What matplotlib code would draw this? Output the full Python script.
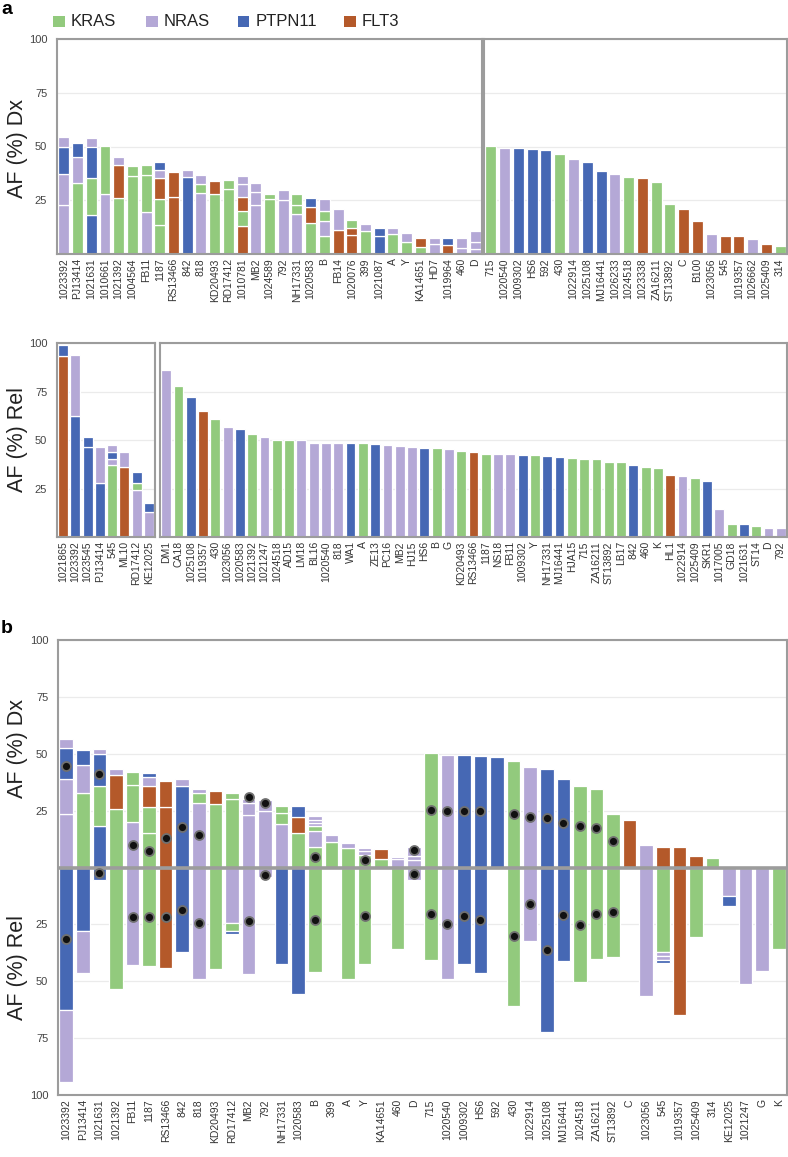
import matplotlib
matplotlib.use("Agg")
import matplotlib.pyplot as plt
from matplotlib.patches import Rectangle
import numpy as np

plt.rcParams['font.family'] = ['Liberation Sans', 'DejaVu Sans']

W, H = 788, 1157
GENE_NAMES = ['KRAS', 'NRAS', 'PTPN11', 'FLT3']
GENE_CODES = ['K', 'N', 'P', 'F']
COL = {'K': '#92CA7D', 'N': '#B4A8D6', 'P': '#4668B4', 'F': '#B4592A'}

# ---------------- Panel a, top: AF (%) Dx ----------------
dx_left_names = ['1023392', 'PJ13414', '1021631', '1010661', '1021392', '1004564', 'FB11', '1187',
                 'RS13466', '842', '818', 'KD20493', 'RD17412', '1010781', 'MB2', '1024589', '792',
                 'NH17331', '1020583', 'B', 'FB14', '1020076', '399', '1021087', 'A', 'Y', 'KA14651',
                 'HD7', '1019964', '460', 'D']
dx_left_segs = [
    [('N', 23), ('N', 14), ('P', 12.7), ('N', 4.5)],
    [('K', 33), ('N', 12.3), ('P', 6.4)],
    [('P', 18.2), ('K', 17), ('P', 14.8), ('N', 4)],
    [('N', 28), ('K', 22)],
    [('K', 26), ('F', 15.4), ('N', 3.6)],
    [('K', 36.3), ('K', 4.7)],
    [('N', 19.6), ('K', 17), ('K', 5)],
    [('K', 13.5), ('K', 12), ('F', 9.7), ('N', 3.8), ('P', 3.6)],
    [('F', 26.4), ('F', 11.6)],
    [('P', 35.6), ('N', 3.4)],
    [('N', 28.3), ('K', 4.2), ('N', 4.1)],
    [('K', 28), ('F', 6)],
    [('K', 30.4), ('K', 3.8)],
    [('F', 13), ('K', 7), ('F', 6.5), ('N', 6.2), ('N', 3.6)],
    [('N', 22.7), ('N', 6.2), ('N', 4.1)],
    [('K', 25.5), ('K', 2.6)],
    [('N', 25.3), ('N', 4.3)],
    [('N', 18.7), ('K', 4.1), ('K', 5)],
    [('K', 14.5), ('F', 7.3), ('P', 4.4)],
    [('K', 8.5), ('N', 6.9), ('K', 4.6), ('N', 5.8)],
    [('F', 11), ('N', 9.7)],
    [('F', 8.8), ('F', 3.4), ('K', 3.8)],
    [('K', 10.6), ('N', 3.3)],
    [('P', 8.6), ('P', 3.7)],
    [('K', 9.1), ('N', 2.8)],
    [('K', 5.6), ('N', 4.4)],
    [('K', 3.4), ('F', 4)],
    [('N', 4.5), ('N', 2.9)],
    [('F', 4.3), ('P', 3.3)],
    [('N', 2.6), ('N', 4.8)],
    [('N', 2.3), ('N', 3.1), ('N', 5.4)],
]

dx_right_names = ['715', '1020540', '1009302', 'HS6', '592', '430', '1022914', '1025108', 'MJ16441',
                  '1026233', '1024518', '1023338', 'ZA16211', 'ST13892', 'C', 'B100', '1023056', '545',
                  '1019357', '1026662', '1025409', '314']
dx_right_genes = ['K', 'N', 'P', 'P', 'P', 'K', 'N', 'P', 'P', 'N', 'K', 'F', 'K', 'K', 'F', 'F', 'N',
                  'F', 'F', 'N', 'F', 'K']
dx_right_vals = [50.4, 49.4, 49.4, 48.8, 48.5, 46.3, 44.1, 42.9, 38.7, 37.2, 35.6, 35.4, 33.7, 23.1,
                 20.7, 15.2, 9.4, 8.4, 8.4, 7.0, 4.5, 3.6]

# ---------------- Panel a, middle: AF (%) Rel ----------------
rel_left_names = ['1021865', '1023392', '1023545', 'PJ13414', '545', 'ML10', 'RD17412', 'KE12025']
rel_left_segs = [
    [('F', 93.5), ('P', 5.6)],
    [('P', 62.4), ('N', 31.6)],
    [('P', 46.6), ('P', 5.1)],
    [('P', 27.6), ('N', 19)],
    [('K', 37), ('N', 3.2), ('P', 3.8), ('N', 3.4)],
    [('F', 36.2), ('N', 7.8)],
    [('N', 24.1), ('K', 3.8), ('P', 5.7)],
    [('N', 12.9), ('P', 4.7)],
]

rel_right_names = ['DM1', 'CA18', '1025108', '1019357', '430', '1023056', '1020583', '1021392', '1021247',
                   '1024518', 'AD15', 'LM18', 'BL16', '1020540', '818', 'WA1', 'A', 'ZE13', 'PC16', 'MB2',
                   'HJ15', 'HS6', 'B', 'G', 'KD20493', 'RS13466', '1187', 'NS18', 'FB11', '1009302', 'Y',
                   'NH17331', 'MJ16441', 'HJA15', '715', 'ZA16211', 'ST13892', 'LB17', '842', '460', 'K',
                   'HL1', '1022914', '1025409', 'SKR1', '1017005', 'GD18', '1021631', 'ST14', 'D', '792']
rel_right_genes = ['N', 'K', 'P', 'F', 'K', 'N', 'P', 'K', 'N', 'K', 'K', 'N', 'N', 'N', 'N', 'P', 'K',
                   'P', 'N', 'N', 'N', 'P', 'K', 'N', 'K', 'F', 'K', 'N', 'N', 'P', 'K', 'P', 'P', 'K',
                   'K', 'K', 'K', 'K', 'P', 'K', 'K', 'F', 'N', 'K', 'P', 'N', 'K', 'P', 'K', 'N', 'N']
rel_right_vals = [85.9, 77.9, 72, 65, 60.7, 56.6, 55.5, 53.1, 51.4, 50, 50, 50, 48.6, 48.6, 48.6, 48.6,
                  48.3, 47.8, 47.2, 46.7, 46.2, 45.9, 45.7, 45.2, 44.5, 43.8, 42.9, 42.8, 42.8, 42.1,
                  42.1, 41.7, 41, 40.7, 40.3, 40, 38.8, 38.6, 37.1, 35.9, 35.5, 32.2, 31.6, 30.5, 29.1,
                  14.3, 6.9, 6.9, 5.5, 4.8, 4.8]

# ---------------- Panel b: paired Dx (up) / Rel (down) ----------------
b_names = ['1023392', 'PJ13414', '1021631', '1021392', 'FB11', '1187', 'RS13466', '842', '818', 'KD20493',
           'RD17412', 'MB2', '792', 'NH17331', '1020583', 'B', '399', 'A', 'Y', 'KA14651', '460', 'D',
           '715', '1020540', '1009302', 'HS6', '592', '430', '1022914', '1025108', 'MJ16441', '1024518',
           'ZA16211', 'ST13892', 'C', '1023056', '545', '1019357', '1025409', '314', 'KE12025', '1021247',
           'G', 'K']
b_dx_segs = [
    [('N', 23.5), ('N', 15.6), ('P', 13.6), ('N', 3.9)],
    [('K', 32.8), ('N', 12.2), ('P', 6.8)],
    [('P', 18.2), ('K', 17.6), ('P', 14.2), ('N', 2.3)],
    [('K', 25.5), ('F', 15.1), ('N', 2.6)],
    [('N', 19.9), ('K', 16.3), ('K', 5.8)],
    [('K', 15), ('K', 11.4), ('F', 9.4), ('N', 4.1), ('P', 1.7)],
    [('F', 26.4), ('F', 11.7)],
    [('P', 35.8), ('N', 3.3)],
    [('N', 28.2), ('K', 4.4), ('N', 2.1)],
    [('K', 27.9), ('F', 5.7)],
    [('K', 30.2), ('K', 2.6)],
    [('N', 22.9), ('N', 5.6), ('N', 1.5)],
    [('N', 25), ('N', 4.6)],
    [('N', 19.1), ('K', 4.7), ('K', 3.4)],
    [('K', 15), ('F', 7.3), ('P', 4.7)],
    [('K', 8.8), ('N', 7.3), ('K', 2), ('N', 1.4), ('N', 1.4), ('N', 1.9)],
    [('K', 11), ('N', 3.3)],
    [('K', 8.5), ('N', 2.2)],
    [('K', 5.6), ('N', 1.5), ('N', 1.5)],
    [('K', 3.6), ('F', 4.4)],
    [('N', 3.6), ('N', 1.2)],
    [('N', 3.4), ('N', 1.7), ('N', 4.1)],
    [('K', 50.5)], [('N', 49.6)], [('P', 49.3)], [('P', 48.9)], [('P', 48.6)], [('K', 46.7)],
    [('N', 44.2)], [('P', 43.1)], [('P', 39.1)], [('K', 35.8)], [('K', 34.3)], [('K', 23.5)],
    [('F', 20.9)], [('N', 9.9)], [('F', 8.8)], [('F', 8.8)], [('F', 5.1)], [('K', 4.1)],
    [], [], [], [],
]
b_rel_segs = [
    [('P', 62.6), ('N', 31.9)],
    [('P', 28), ('N', 18.3)],
    [('P', 5.4)],
    [('K', 53.3)],
    [('N', 43)],
    [('K', 43.4)],
    [('F', 44.1)],
    [('P', 37.2)],
    [('N', 48.9)],
    [('K', 44.8)],
    [('N', 24.4), ('K', 3.4), ('P', 1.4)],
    [('N', 47)],
    [('N', 4.2)],
    [('P', 42.2)],
    [('P', 55.5)],
    [('K', 46)],
    [],
    [('K', 48.9)],
    [('K', 42.2)],
    [],
    [('K', 36)],
    [('N', 5.4)],
    [('K', 40.7)], [('N', 48.9)], [('P', 42.2)], [('P', 46.3)], [], [('K', 60.9)],
    [('N', 32.1)], [('P', 72.1)], [('P', 41.2)], [('K', 50.4)], [('K', 40.4)], [('K', 39.3)],
    [], [('N', 56.5)], [('K', 37.1), ('N', 1.9), ('N', 1.5), ('P', 1.5)], [('F', 65)], [('K', 30.5)], [],
    [('N', 12.4), ('P', 4.4)], [('N', 51.4)], [('N', 45.5)], [('K', 35.8)],
]
b_dx_dots = [44.7, None, 41.3, None, 9.9, 7.4, 13.1, 18, 14.3, None, None, 30.8, 28.5, None, None, 4.5,
             None, None, 3.4, None, None, 7.7, 25.3, 24.8, 24.8, 24.8, None, 23.5, 22.3, 21.6, 19.7,
             18.2, 17.2, 11.8, None, None, None, None, None, None, None, None, None, None]
b_rel_dots = [31.4, None, 2.5, None, 21.9, 21.9, 21.9, 18.5, 24.4, None, None, 23.4, 3.2, None, None, 22.9,
              None, None, 21.2, None, None, 2.8, 20.4, 24.7, 21.2, 22.9, None, 30.2, 16.1, 36.1, 20.7,
              25.4, 20.3, 19.7, None, None, None, None, None, None, None, None, None, None]

# ---------------- drawing ----------------
SPINE = '#9c9c9c'
GRID = '#ebebeb'


def rect(x0, y0, x1, y1):
    return [x0 / W, 1 - y1 / H, (x1 - x0) / W, (y1 - y0) / H]


def draw_stacks(ax, segs, sign=1, width=0.8):
    for i, stack in enumerate(segs):
        base = 0.0
        for g, v in stack:
            ax.bar(i, sign * v, bottom=sign * base, width=width, color=COL[g],
                   edgecolor='white', linewidth=0.9, zorder=2)
            base += v


def style(ax, names, show_y=True, ylim=(0, 100), yticks=(25, 50, 75, 100), ylabels=None):
    ax.set_xlim(-0.5, len(names) - 0.5)
    ax.set_ylim(*ylim)
    ax.set_xticks(range(len(names)))
    ax.set_xticklabels(names, rotation=90, fontsize=7.5, color='#333333')
    ax.set_yticks(list(yticks))
    if show_y:
        ax.set_yticklabels(ylabels if ylabels is not None else [str(t) for t in yticks],
                           fontsize=8, color='#444444')
    else:
        ax.set_yticklabels([])
    ax.tick_params(length=0, pad=3)
    ax.tick_params(axis='y', pad=7)
    for s in ax.spines.values():
        s.set_color(SPINE)
        s.set_linewidth(1.5)
    ax.grid(axis='y', color=GRID, lw=0.9, zorder=0)
    ax.set_axisbelow(True)


fig = plt.figure(figsize=(W / 100, H / 100), dpi=100)

# top panel
ax1 = fig.add_axes(rect(57, 39, 482, 254))
draw_stacks(ax1, dx_left_segs)
style(ax1, dx_left_names)
ax2 = fig.add_axes(rect(484, 39, 787, 254))
draw_stacks(ax2, [[(g, v)] for g, v in zip(dx_right_genes, dx_right_vals)])
style(ax2, dx_right_names, show_y=False)

# middle panel
ax3 = fig.add_axes(rect(57, 343, 155, 537))
draw_stacks(ax3, rel_left_segs)
style(ax3, rel_left_names)
ax4 = fig.add_axes(rect(160, 343, 787, 537))
draw_stacks(ax4, [[(g, v)] for g, v in zip(rel_right_genes, rel_right_vals)])
style(ax4, rel_right_names, show_y=False)

# bottom panel
ax5 = fig.add_axes(rect(58, 640, 787, 1095))
draw_stacks(ax5, b_dx_segs, sign=1, width=0.82)
draw_stacks(ax5, b_rel_segs, sign=-1, width=0.82)
bt = [100, 75, 50, 25, -25, -50, -75, -100]
style(ax5, b_names, ylim=(-100, 100), yticks=bt, ylabels=[str(abs(t)) for t in bt])
ax5.axhline(0, color=SPINE, lw=2.6, zorder=3)
xs = np.arange(len(b_names))
dx_d = np.array([np.nan if v is None else v for v in b_dx_dots], dtype=float)
rel_d = np.array([np.nan if v is None else -v for v in b_rel_dots], dtype=float)
for d in (dx_d, rel_d):
    ax5.scatter(xs, d, s=42, c='#111111', edgecolors='#707070', linewidths=1.3, zorder=5)

# y labels
ylab_kw = dict(rotation=90, ha='center', va='center', fontsize=15.5, color='#222222')
fig.text(18 / W, 1 - 148 / H, 'AF (%) Dx', **ylab_kw)
fig.text(18 / W, 1 - 440 / H, 'AF (%) Rel', **ylab_kw)
fig.text(18 / W, 1 - 748 / H, 'AF (%) Dx', **ylab_kw)
fig.text(18 / W, 1 - 968 / H, 'AF (%) Rel', **ylab_kw)

# panel letters
fig.text(1 / W, 1 - 1 / H, 'a', fontsize=14, fontweight='bold', ha='left', va='top')
fig.text(1 / W, 1 - 620 / H, 'b', fontsize=14, fontweight='bold', ha='left', va='top')

# legend
leg_sq_x = [53, 146, 238, 344]
for code, name, sx in zip(GENE_CODES, GENE_NAMES, leg_sq_x):
    fig.patches.append(Rectangle((sx / W, 1 - 27 / H), 11.5 / W, 11.5 / H,
                                 transform=fig.transFigure, facecolor=COL[code], edgecolor='none'))
    fig.text((sx + 18) / W, 1 - 21 / H, name, fontsize=12, ha='left', va='center', color='#222222')

fig.savefig('out.png', dpi=100)
